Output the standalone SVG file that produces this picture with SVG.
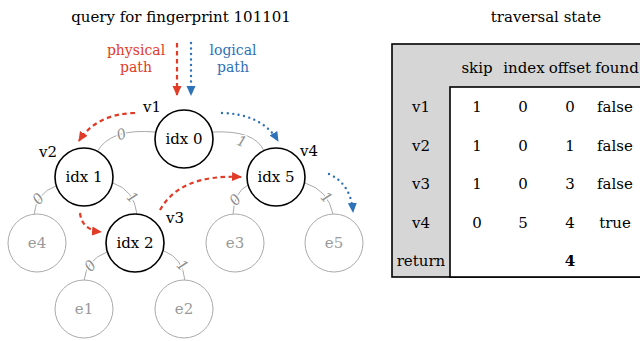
<svg xmlns="http://www.w3.org/2000/svg" width="640" height="341" viewBox="0 0 640 341" font-family="'DejaVu Serif', 'Liberation Serif', serif">
<defs>
<style>
text{font-family:"DejaVu Serif","Liberation Serif",serif;font-size:15px;fill:#000}
.t{text-anchor:middle}
.node circle{fill:#fff;stroke:#000;stroke-width:1.6}
.leaf circle{fill:#fff;stroke:#aaa;stroke-width:1}
.leaf text{fill:#9a9a9a}
.edge{fill:none;stroke:#aaa;stroke-width:1}
.el{fill:#8e8e8e;font-style:italic;font-size:14.5px;text-anchor:middle;stroke:#fff;stroke-width:2.5;paint-order:stroke}
.red{fill:none;stroke:#e03c28;stroke-width:2.2;stroke-dasharray:4.5 3.5}
.blue{fill:none;stroke:#2e72b8;stroke-width:2.4;stroke-dasharray:0 5.5;stroke-linecap:round}
.rt{fill:#e03c28}
.bt{fill:#2e72b8}
.lg{font-size:14px}
</style>
<marker id="ra" viewBox="0 0 10 10" refX="9" refY="5" markerWidth="10" markerHeight="10" markerUnits="userSpaceOnUse" orient="auto"><path d="M0,0.5 L10,5 L0,9.5 z" fill="#e03c28"/></marker>
<marker id="ba" viewBox="0 0 10 10" refX="9" refY="5" markerWidth="10" markerHeight="10" markerUnits="userSpaceOnUse" orient="auto"><path d="M0,0.5 L10,5 L0,9.5 z" fill="#2e72b8"/></marker>
</defs>
<rect width="640" height="341" fill="#fff"/>

<text class="t" x="181" y="22">query for fingerprint 101101</text>
<text class="t rt lg" x="136" y="55">physical</text>
<text class="t rt lg" x="136" y="72">path</text>
<text class="t bt lg" x="233" y="55">logical</text>
<text class="t bt lg" x="233" y="72">path</text>

<g id="edges">
<path class="edge" d="M155,132 Q110,128 97,152"/>
<path class="edge" d="M213,132 Q255,130 264,151"/>
<path class="edge" d="M56,186 Q36,193 34,215"/>
<path class="edge" d="M113,183 Q134,190 137,214"/>
<path class="edge" d="M248,185 Q234,192 233,214"/>
<path class="edge" d="M305,183 Q328,190 333,214"/>
<path class="edge" d="M107,252 Q86,260 84,281"/>
<path class="edge" d="M164,251 Q183,258 185,281"/>
<text class="el" transform="translate(123,139) rotate(-20)">0</text>
<text class="el" transform="translate(240,146) rotate(20)">1</text>
<text class="el" transform="translate(42,202) rotate(-50)">0</text>
<text class="el" transform="translate(129,201) rotate(45)">1</text>
<text class="el" transform="translate(239,203) rotate(-50)">0</text>
<text class="el" transform="translate(323,201) rotate(45)">1</text>
<text class="el" transform="translate(94,269) rotate(-50)">0</text>
<text class="el" transform="translate(179,269) rotate(45)">1</text>
</g>

<g id="e4" class="leaf"><circle cx="37" cy="243" r="29"/><text class="t" x="37" y="248">e4</text></g>
<g id="e3" class="leaf"><circle cx="235" cy="243" r="29"/><text class="t" x="235" y="248">e3</text></g>
<g id="e5" class="leaf"><circle cx="334" cy="243" r="29"/><text class="t" x="334" y="248">e5</text></g>
<g id="e1" class="leaf"><circle cx="84" cy="309" r="29"/><text class="t" x="84" y="314">e1</text></g>
<g id="e2" class="leaf"><circle cx="184" cy="309" r="29"/><text class="t" x="184" y="314">e2</text></g>

<g id="v1" class="node"><circle cx="184" cy="139" r="29"/><text class="t" x="184" y="144">idx 0</text><text x="143" y="112">v1</text></g>
<g id="v2" class="node"><circle cx="84" cy="177" r="29"/><text class="t" x="84" y="182">idx 1</text><text x="39" y="157">v2</text></g>
<g id="v4" class="node"><circle cx="276" cy="177" r="29"/><text class="t" x="276" y="182">idx 5</text><text x="300" y="156">v4</text></g>
<g id="v3" class="node"><circle cx="135" cy="243" r="29"/><text class="t" x="135" y="248">idx 2</text><text x="166" y="223">v3</text></g>

<g id="paths">
<path class="red" d="M177,43 L177,95" marker-end="url(#ra)"/>
<path class="blue" d="M191,43 L191,95" marker-end="url(#ba)"/>
<path class="red" d="M135,113 Q96,114 79,141" marker-end="url(#ra)"/>
<path class="blue" d="M222,113 Q262,114 278,141" marker-end="url(#ba)"/>
<path class="red" d="M80,213 Q82,230 101,232" marker-end="url(#ra)"/>
<path class="red" d="M160,210 Q180,174 241,177" marker-end="url(#ra)"/>
<path class="blue" d="M329,174 Q351,184 353,212" marker-end="url(#ba)"/>
</g>

<g id="table">
<text class="t" x="546" y="22">traversal state</text>
<rect x="392" y="44" width="270" height="233" fill="#d6d6d6" stroke="#000" stroke-width="1.6"/>
<rect x="450" y="87" width="212" height="190" fill="#fff" stroke="#000" stroke-width="1.6"/>
<text class="t" x="477" y="73">skip</text>
<text class="t" x="524" y="73">index</text>
<text class="t" x="570" y="73">offset</text>
<text class="t" x="617" y="73">found</text>
<text class="t" x="421" y="112">v1</text>
<text class="t" x="421" y="151">v2</text>
<text class="t" x="421" y="189">v3</text>
<text class="t" x="421" y="228">v4</text>
<text class="t" x="421" y="266">return</text>
<text class="t" x="477" y="112">1</text><text class="t" x="523" y="112">0</text><text class="t" x="570" y="112">0</text><text class="t" x="615" y="112">false</text>
<text class="t" x="477" y="151">1</text><text class="t" x="523" y="151">0</text><text class="t" x="570" y="151">1</text><text class="t" x="615" y="151">false</text>
<text class="t" x="477" y="189">1</text><text class="t" x="523" y="189">0</text><text class="t" x="570" y="189">3</text><text class="t" x="615" y="189">false</text>
<text class="t" x="477" y="228">0</text><text class="t" x="523" y="228">5</text><text class="t" x="570" y="228">4</text><text class="t" x="615" y="228">true</text>
<text class="t" x="570" y="266" font-weight="bold">4</text>
</g>
</svg>
